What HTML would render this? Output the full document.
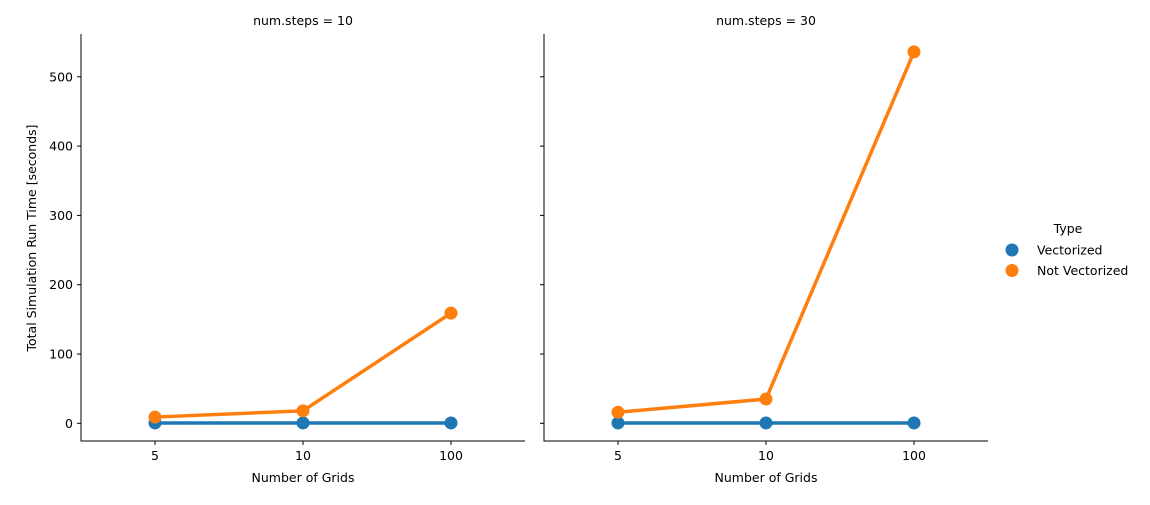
<!DOCTYPE html>
<html><head><meta charset="utf-8"><style>
body{margin:0;background:#fff;font-family:"Liberation Sans","DejaVu Sans",sans-serif}
svg text{font-family:"DejaVu Sans","Liberation Sans",sans-serif;font-size:12.5px;fill:#000}
</style></head><body>
<svg id="chart" width="1150" height="500" xmlns="http://www.w3.org/2000/svg"></svg>
<script>
const categories = ["5","10","100"];
const panelTitles = ["num.steps = 10","num.steps = 30"];
const vectorized10 = [0.5,0.5,0.5];
const notVectorized10 = [9,18,159];
const vectorized30 = [0.5,0.5,0.5];
const notVectorized30 = [16,35,536];
const yTicks = [0,100,200,300,400,500];
const seriesNames = ["Vectorized","Not Vectorized"];
const colors = ["#1f77b4","#ff7f0e"];

const NS="http://www.w3.org/2000/svg";
const svg=document.getElementById('chart');
function mk(tag,attrs,parent){const e=document.createElementNS(NS,tag);for(const k in attrs)e.setAttribute(k,attrs[k]);(parent||svg).appendChild(e);return e;}
const plotTop=34,plotBottom=441;
function yScale(v){return 423.3-v*0.693;}
const panels=[{x0:81,x1:525,title:panelTitles[0],data:[vectorized10,notVectorized10]},
              {x0:544,x1:988,title:panelTitles[1],data:[vectorized30,notVectorized30]}];
panels.forEach((p,pi)=>{
  const g=mk('g',{});
  
  
  const step=(p.x1-p.x0)/categories.length;
  const xs=i=>p.x0+step*(i+0.5);
  const ax=mk('path',{d:`M${p.x0},${plotTop}V${plotBottom}H${p.x1}`,stroke:'#000',fill:'none','stroke-width':1},g);
  
  
  const t=mk('text',{x:(p.x0+p.x1)/2,y:25,'text-anchor':'middle'},g);t.textContent=p.title;
  
  
  yTicks.forEach(v=>{
    mk('line',{x1:p.x0-4,x2:p.x0,y1:yScale(v),y2:yScale(v),stroke:'#000'},g);
    if(pi===0){const l=mk('text',{x:p.x0-8,y:yScale(v)+4.5,'text-anchor':'end'},g);l.textContent=v;
      
      }
  });
  categories.forEach((c,i)=>{
    mk('line',{x1:xs(i),x2:xs(i),y1:plotBottom,y2:plotBottom+4,stroke:'#000'},g);
    const l=mk('text',{x:xs(i),y:plotBottom+19,'text-anchor':'middle'},g);l.textContent=c;
    
    
  });
  const xl=mk('text',{x:(p.x0+p.x1)/2,y:482,'text-anchor':'middle'},g);xl.textContent="Number of Grids";
  
  
  p.data.forEach((s,si)=>{
    const pts=s.map((v,i)=>xs(i)+','+yScale(v)).join(' ');
    const pl=mk('polyline',{points:pts,fill:'none',stroke:colors[si],'stroke-width':3.5},g);
    
    
    s.forEach((v,i)=>{const c=mk('circle',{cx:xs(i),cy:yScale(v),r:6.5,fill:colors[si]},g);
      
      });
  });
});
const yt=mk('text',{x:0,y:0,'text-anchor':'middle',transform:'translate(36,238) rotate(-90)'});
yt.textContent="Total Simulation Run Time [seconds]";


const lg=mk('g',{});


const lt=mk('text',{x:1068,y:233,'text-anchor':'middle'},lg);lt.textContent="Type";
seriesNames.forEach((n,i)=>{
  const c=mk('circle',{cx:1012,cy:250+i*20.5,r:6.5,fill:colors[i]},lg);
  
  
  const t=mk('text',{x:1037,y:254.5+i*20.5},lg);t.textContent=n;
  
  
});
</script>
</body></html>
